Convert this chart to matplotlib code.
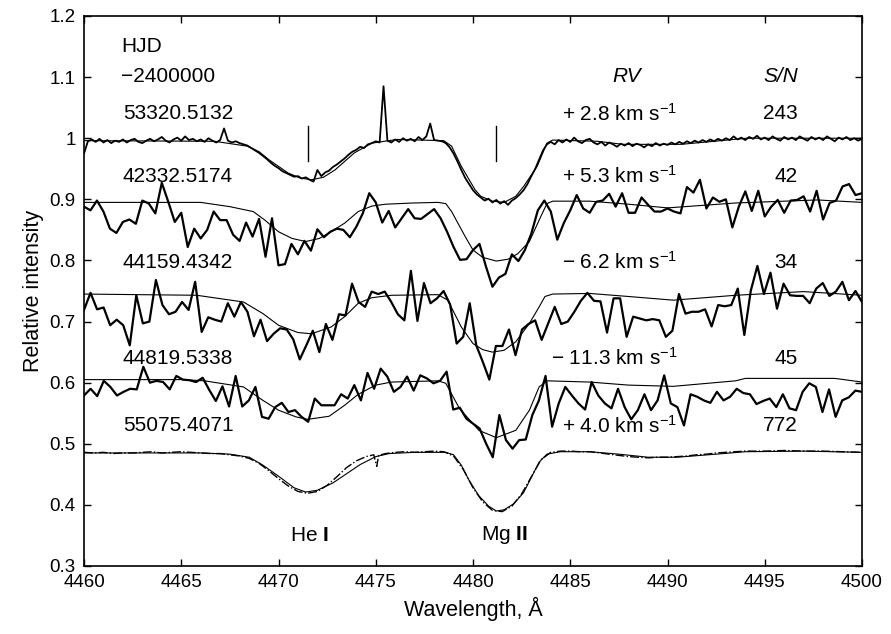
import numpy as np
import matplotlib
matplotlib.use("Agg")
import matplotlib.pyplot as plt

plt.rcParams['font.family'] = ['Liberation Sans', 'DejaVu Sans']
plt.rcParams['mathtext.fontset'] = 'custom'
plt.rcParams['mathtext.rm'] = 'Liberation Sans'
plt.rcParams['mathtext.it'] = 'Liberation Sans:italic'
plt.rcParams['mathtext.bf'] = 'Liberation Sans:bold'

# ---------------- data ----------------
# Spectrum HJD 53320.5132 (S/N 243), 0.2 A sampling from 4460 to 4500
spec1 = [
    0.975, 0.995, 0.998, 0.994, 0.999, 0.993, 0.997, 0.992, 0.996, 0.994,
    0.998, 0.993, 0.997, 0.999, 0.994, 0.992, 0.996, 0.999, 0.995, 0.998,
    1.002, 0.996, 0.993, 0.998, 1.001, 0.996, 1.003, 0.997, 0.999, 0.995,
    0.998, 0.994, 1.000, 0.996, 0.993, 0.997, 1.016, 0.996, 0.993, 0.995,
    0.992, 0.990, 0.988, 0.984, 0.980, 0.976, 0.971, 0.966, 0.960, 0.955,
    0.951, 0.946, 0.943, 0.940, 0.937, 0.938, 0.934, 0.936, 0.932, 0.929,
    0.948, 0.938, 0.944, 0.947, 0.953, 0.957, 0.962, 0.967, 0.973, 0.978,
    0.981, 0.986, 0.984, 0.990, 0.992, 0.995, 0.993, 1.085, 0.996, 0.993,
    0.998, 0.994, 1.000, 0.996, 0.999, 0.995, 1.002, 0.997, 1.003, 1.024,
    0.997, 0.996, 0.995, 0.992, 0.985, 0.975, 0.962, 0.948, 0.935, 0.925,
    0.915, 0.908, 0.903, 0.898, 0.901, 0.895, 0.899, 0.893, 0.897, 0.891,
    0.898, 0.902, 0.908, 0.915, 0.925, 0.938, 0.950, 0.965, 0.980, 0.990,
    0.994, 0.990, 0.997, 0.993, 0.998, 0.994, 1.001, 0.995, 0.992, 0.997,
    0.999, 0.993, 0.990, 0.994, 0.988, 0.993, 0.990, 0.986, 0.991, 0.988,
    0.992, 0.987, 0.991, 0.989, 0.985, 0.990, 0.987, 0.992, 0.988, 0.991,
    0.989, 0.993, 0.990, 0.994, 0.991, 0.995, 0.992, 0.996, 0.993, 0.997,
    0.994, 0.998, 0.995, 0.999, 0.996, 1.000, 0.997, 1.003, 0.998, 1.001,
    0.997, 1.002, 0.999, 1.004, 0.998, 1.001, 0.997, 1.003, 0.999, 0.996,
    1.002, 0.998, 1.001, 0.997, 1.003, 0.999, 0.996, 1.002, 0.998, 1.001,
    0.997, 1.003, 0.999, 0.995, 1.001, 0.998, 1.002, 0.997, 1.000, 0.996,
    0.999,
]

# Spectrum HJD 42332.5174 (S/N 42)
spec2 = [
    0.888, 0.882, 0.898, 0.880, 0.852, 0.845, 0.863, 0.867, 0.860, 0.898,
    0.893, 0.877, 0.927, 0.896, 0.863, 0.878, 0.822, 0.852, 0.836, 0.850,
    0.880, 0.866, 0.866, 0.842, 0.832, 0.862, 0.839, 0.868, 0.806, 0.869,
    0.792,
    0.794, 0.827, 0.810, 0.832, 0.816, 0.851, 0.838, 0.847, 0.852, 0.850,
    0.838, 0.855, 0.877, 0.910, 0.895, 0.862, 0.881, 0.854, 0.869, 0.884,
    0.869, 0.868, 0.876, 0.884, 0.869, 0.847, 0.822, 0.801, 0.802, 0.817,
    0.827, 0.790, 0.757, 0.772, 0.778, 0.810, 0.799, 0.817, 0.844, 0.882,
    0.898, 0.880, 0.834, 0.861, 0.882, 0.907, 0.885, 0.878, 0.896, 0.898,
    0.909, 0.888, 0.910, 0.878, 0.878, 0.903, 0.891, 0.880, 0.880, 0.885,
    0.880, 0.877, 0.920, 0.911, 0.932, 0.885, 0.903, 0.896, 0.900, 0.854,
    0.888, 0.913, 0.881, 0.914, 0.872, 0.888, 0.899, 0.878, 0.898, 0.899,
    0.905, 0.880, 0.914, 0.867, 0.894, 0.898, 0.921, 0.925, 0.907, 0.910,
]

# Spectrum HJD 44159.4342 (S/N 34)
spec3 = [
    0.719, 0.747, 0.720, 0.723, 0.694, 0.703, 0.694, 0.661, 0.743, 0.697,
    0.700, 0.768, 0.727, 0.712, 0.716, 0.732, 0.719, 0.765, 0.683, 0.707,
    0.703, 0.700, 0.730, 0.708, 0.732, 0.716, 0.676, 0.703, 0.668, 0.680,
    0.689,
    0.687, 0.671, 0.638, 0.661, 0.685, 0.650, 0.696, 0.670, 0.712, 0.710,
    0.762, 0.732, 0.724, 0.749, 0.745, 0.749, 0.732, 0.712, 0.702, 0.783,
    0.701, 0.763, 0.730, 0.738, 0.750, 0.728, 0.664, 0.675, 0.730, 0.661,
    0.634, 0.605, 0.660, 0.660, 0.687, 0.645, 0.687, 0.696, 0.702, 0.670,
    0.697, 0.724, 0.696, 0.700, 0.716, 0.734, 0.747, 0.734, 0.733, 0.682,
    0.738, 0.738, 0.675, 0.708, 0.705, 0.702, 0.704, 0.702, 0.675, 0.685,
    0.745, 0.713, 0.716, 0.716, 0.720, 0.692, 0.727, 0.725, 0.727, 0.754,
    0.678, 0.751, 0.791, 0.745, 0.780, 0.721, 0.762, 0.743, 0.742, 0.742,
    0.730, 0.754, 0.763, 0.742, 0.749, 0.765, 0.735, 0.750, 0.732,
]

# Spectrum HJD 44819.5338 (S/N 45)
spec4 = [
    0.579, 0.590, 0.578, 0.603, 0.593, 0.579, 0.585, 0.590, 0.589, 0.626,
    0.600, 0.603, 0.601, 0.589, 0.611, 0.605, 0.604, 0.601, 0.608, 0.588,
    0.570, 0.594, 0.561, 0.611, 0.561, 0.571, 0.593, 0.544, 0.541, 0.560,
    0.567,
    0.552, 0.555, 0.544, 0.536, 0.574, 0.563, 0.563, 0.563, 0.581, 0.574,
    0.596, 0.571, 0.616, 0.590, 0.623, 0.610, 0.585, 0.593, 0.610, 0.587,
    0.612, 0.607, 0.599, 0.603, 0.618, 0.556, 0.559, 0.541, 0.533, 0.525,
    0.500, 0.478, 0.547, 0.506, 0.492, 0.506, 0.507, 0.547, 0.571, 0.611,
    0.528, 0.566, 0.593, 0.579, 0.566, 0.556, 0.601, 0.579, 0.566, 0.558,
    0.590, 0.560, 0.540, 0.555, 0.581, 0.555, 0.571, 0.612, 0.566,
    0.560, 0.530, 0.581, 0.577, 0.571, 0.567, 0.585, 0.571, 0.577, 0.590,
    0.583, 0.581, 0.565, 0.570, 0.574, 0.560, 0.581, 0.558, 0.555, 0.585,
    0.599, 0.593, 0.552, 0.589, 0.544, 0.571, 0.576, 0.587, 0.585,
]

# Spectrum HJD 55075.4071 (S/N 772)
wl5 = [4460.0, 4460.5, 4461.0, 4461.5, 4462.0, 4462.5, 4463.0, 4463.5, 4464.0, 4464.5,
       4465.0, 4465.5, 4466.0, 4466.5, 4467.0, 4467.5, 4468.0, 4468.5, 4469.0, 4469.5,
       4470.0, 4470.5, 4471.0, 4471.5, 4472.0, 4472.5, 4473.0, 4473.5, 4474.0, 4474.5,
       4474.9, 4475.05, 4475.15, 4475.5, 4476.0, 4476.5, 4477.0, 4477.5, 4478.0, 4478.5,
       4479.0, 4479.5, 4480.0, 4480.5, 4481.0, 4481.5, 4482.0, 4482.5, 4483.0, 4483.5,
       4484.0, 4484.5, 4485.0, 4485.5, 4486.0, 4486.5, 4487.0, 4487.5, 4488.0, 4488.5,
       4489.0, 4489.5, 4490.0, 4490.5, 4491.0, 4491.5, 4492.0, 4492.5, 4493.0, 4493.5,
       4494.0, 4495.0, 4496.0, 4497.0, 4498.0, 4499.0, 4500.0]
spec5 = [0.486, 0.485, 0.486, 0.484, 0.485, 0.485, 0.486, 0.487, 0.485, 0.486,
         0.487, 0.486, 0.485, 0.484, 0.484, 0.482, 0.480, 0.476, 0.468, 0.456,
         0.443, 0.431, 0.422, 0.419, 0.422, 0.432, 0.446, 0.461, 0.472, 0.479,
         0.482, 0.463, 0.481, 0.484, 0.486, 0.487, 0.486, 0.487, 0.488, 0.487,
         0.480, 0.458, 0.428, 0.405, 0.391, 0.389, 0.398, 0.418, 0.446, 0.474,
         0.486, 0.488, 0.488, 0.487, 0.487, 0.485, 0.483, 0.481, 0.479, 0.478,
         0.477, 0.478, 0.478, 0.479, 0.480, 0.482, 0.483, 0.485, 0.486, 0.487,
         0.488, 0.488, 0.489, 0.488, 0.488, 0.487, 0.486]

# Model (synthetic) profiles
m1_wl = [4460.0, 4466.7, 4468.4, 4469.0, 4469.5, 4470.5, 4471.1, 4471.7, 4472.3, 4472.9,
         4473.9, 4474.8, 4476.1, 4478.5, 4478.9, 4479.4, 4480.1, 4480.4, 4481.0, 4481.6,
         4482.2, 4482.6, 4483.3, 4483.8, 4484.1, 4486.4, 4487.7, 4490.7, 4494.1, 4500.0]
m1_fl = [0.996, 0.995, 0.987, 0.978, 0.965, 0.943, 0.935, 0.932, 0.936, 0.948,
         0.976, 0.992, 0.998, 0.996, 0.987, 0.954, 0.916, 0.905, 0.897, 0.895,
         0.905, 0.921, 0.954, 0.992, 0.997, 0.995, 0.990, 0.990, 1.000, 1.000]

m2_wl = [4460.0, 4466.0, 4467.5, 4468.7, 4469.3, 4470.0, 4470.7, 4471.4, 4472.1, 4472.7,
         4473.4, 4474.1, 4474.8, 4475.5, 4476.9, 4478.2, 4478.6, 4478.9, 4479.6, 4480.0,
         4480.5, 4481.2, 4481.8, 4482.3, 4482.9, 4483.4, 4483.8, 4484.1, 4486.0, 4488.0,
         4490.0, 4493.5, 4497.7, 4500.0]
m2_fl = [0.895, 0.895, 0.888, 0.880, 0.866, 0.847, 0.836, 0.831, 0.836, 0.847,
         0.861, 0.880, 0.889, 0.892, 0.894, 0.895, 0.893, 0.880, 0.839, 0.817,
         0.805, 0.799, 0.802, 0.811, 0.831, 0.866, 0.893, 0.897, 0.897, 0.892,
         0.886, 0.894, 0.899, 0.895]

m3_wl = [4460.0, 4465.8, 4468.2, 4469.2, 4470.0, 4471.0, 4471.7, 4472.7, 4473.4, 4474.1,
         4474.8, 4475.8, 4478.2, 4478.7, 4479.4, 4480.0, 4480.5, 4481.0, 4481.6, 4482.2,
         4482.9, 4483.4, 4483.7, 4484.1, 4486.0, 4488.0, 4490.3, 4493.5, 4497.0, 4500.0]
m3_fl = [0.745, 0.743, 0.732, 0.713, 0.694, 0.682, 0.680, 0.691, 0.708, 0.730,
         0.739, 0.743, 0.744, 0.735, 0.691, 0.664, 0.654, 0.650, 0.653, 0.667,
         0.697, 0.724, 0.741, 0.745, 0.746, 0.741, 0.735, 0.743, 0.749, 0.743]

m4_wl = [4460.0, 4465.1, 4466.2, 4468.2, 4469.2, 4470.0, 4470.9, 4471.5, 4472.6, 4473.4,
         4474.1, 4475.0, 4475.8, 4478.2, 4478.6, 4479.3, 4480.3, 4481.2, 4482.2, 4482.9,
         4483.4, 4483.8, 4486.0, 4488.0, 4490.3, 4493.5, 4494.0, 4498.6, 4500.0]
m4_fl = [0.605, 0.605, 0.603, 0.593, 0.571, 0.555, 0.544, 0.540, 0.545, 0.563,
         0.581, 0.596, 0.601, 0.603, 0.599, 0.558, 0.522, 0.510, 0.522, 0.555,
         0.593, 0.603, 0.601, 0.596, 0.594, 0.603, 0.607, 0.607, 0.601]

m5_wl = [4460.0, 4466.0, 4467.5, 4468.5, 4469.2, 4470.0, 4470.8, 4471.4, 4472.0, 4472.8,
         4473.5, 4474.2, 4475.0, 4475.7, 4477.0, 4478.6, 4479.0, 4479.4, 4479.8, 4480.3,
         4480.8, 4481.2, 4481.6, 4482.1, 4482.6, 4483.0, 4483.4, 4483.8, 4484.5, 4486.0,
         4487.5, 4489.0, 4490.5, 4492.5, 4494.0, 4497.0, 4500.0]
m5_fl = [0.485, 0.485, 0.483, 0.478, 0.465, 0.447, 0.428, 0.421, 0.424, 0.436,
         0.451, 0.466, 0.479, 0.484, 0.486, 0.486, 0.482, 0.465, 0.440, 0.415,
         0.398, 0.390, 0.392, 0.402, 0.420, 0.445, 0.470, 0.483, 0.487, 0.487,
         0.483, 0.478, 0.478, 0.483, 0.487, 0.488, 0.486]

line_marks = [4471.5, 4481.2]

hjd_labels = ["53320.5132", "42332.5174", "44159.4342", "44819.5338", "55075.4071"]
rv_labels = ["+ 2.8", "+ 5.3", "\u2212 6.2", "\u2212 11.3", "+ 4.0"]
sn_labels = ["243", "42", "34", "45", "772"]
label_y = [1.040, 0.938, 0.797, 0.640, 0.530]

# ---------------- figure ----------------
fig = plt.figure(figsize=(8.91, 6.34), dpi=100)
ax = fig.add_axes([84/891, 1 - 566/634, (862-84)/891, (566-16)/634])

def grid(vals):
    return np.linspace(4460, 4500, len(vals))

ax.plot(m1_wl, m1_fl, color='black', lw=0.8)
ax.plot(grid(spec1), spec1, color='black', lw=1.3)
ax.plot(m2_wl, m2_fl, color='black', lw=0.8)
ax.plot(grid(spec2), spec2, color='black', lw=1.6)
ax.plot(m3_wl, m3_fl, color='black', lw=0.8)
ax.plot(grid(spec3), spec3, color='black', lw=1.6)
ax.plot(m4_wl, m4_fl, color='black', lw=0.8)
ax.plot(grid(spec4), spec4, color='black', lw=1.6)
ax.plot(m5_wl, m5_fl, color='black', lw=0.8)
ax.plot(wl5, spec5, color='black', lw=1.0, ls='-.')

for w in line_marks:
    ax.plot([w, w], [0.962, 1.020], color='black', lw=1.0)

ax.set_xlim(4460, 4500)
ax.set_ylim(0.3, 1.2)
ax.set_xticks(np.arange(4460, 4501, 5))
ax.set_yticks([0.3, 0.4, 0.5, 0.6, 0.7, 0.8, 0.9, 1.0, 1.1, 1.2])
ax.set_yticklabels(['0.3', '0.4', '0.5', '0.6', '0.7', '0.8', '0.9', '1', '1.1', '1.2'])
ax.tick_params(direction='in', length=5, width=1.0, top=True, right=True,
               labelsize=13.5, pad=6)
for s in ax.spines.values():
    s.set_linewidth(1.2)

ax.set_xlabel("Wavelength, \u00c5", fontsize=15.5)
ax.set_ylabel("Relative intensity", fontsize=15.5)

fs = 15
ax.text(4461.9, 1.150, "HJD", fontsize=fs, ha='left', va='center')
ax.text(4461.9, 1.101, "\u22122400000", fontsize=fs, ha='left', va='center')
ax.text(4487.9, 1.101, "RV", fontsize=fs, ha='center', va='center', style='italic')
ax.text(4496.7, 1.101, "S/N", fontsize=fs, ha='right', va='center', style='italic')
for h, rv, sn, y in zip(hjd_labels, rv_labels, sn_labels, label_y):
    ax.text(4462.0, y, h, fontsize=fs, ha='left', va='center')
    ax.text(4490.5, y, rv + r" km s$^{-1}$", fontsize=fs, ha='right', va='center')
    ax.text(4496.7, y, sn, fontsize=fs, ha='right', va='center')

ax.text(4471.6, 0.350, r"He $\mathbf{I}$", fontsize=fs, ha='center', va='center')
ax.text(4481.6, 0.350, r"Mg $\mathbf{II}$", fontsize=fs, ha='center', va='center')

fig.savefig("out.png", dpi=100)
